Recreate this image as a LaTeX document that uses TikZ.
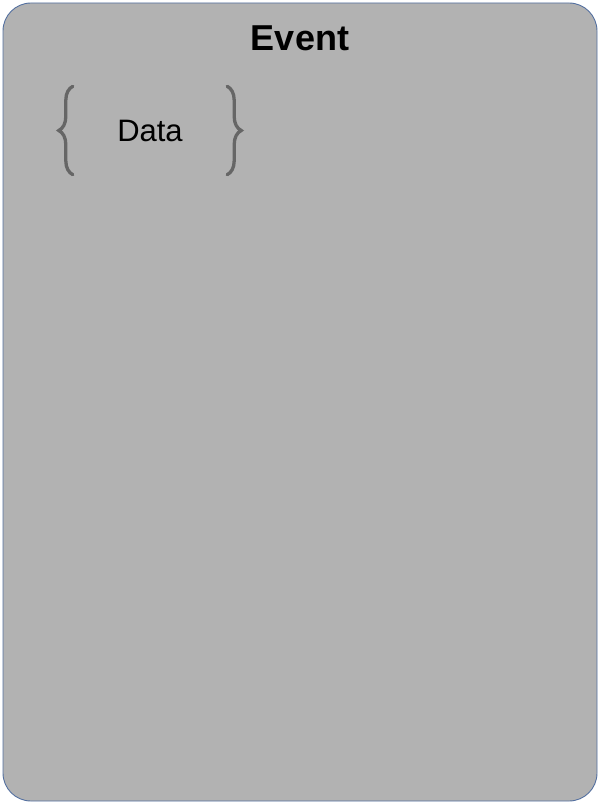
\documentclass[tikz,border=0pt]{standalone}
\usepackage{fontspec}
\setmainfont{Liberation Sans}
\usepackage{xcolor}
\usetikzlibrary{positioning,decorations.pathreplacing}

\definecolor{eventfill}{RGB}{178,178,178}
\definecolor{eventline}{RGB}{84,112,160}
\definecolor{bracegray}{RGB}{102,102,102}

\tikzset{
  eventbox/.style={draw=eventline,fill=eventfill,line width=0.9pt,rounded corners=28pt,
    minimum width=594pt,minimum height=798pt,inner sep=0pt},
  titletext/.style={font=\fontsize{36}{40}\selectfont\bfseries},
  datatext/.style={font=\fontsize{31}{35}\selectfont,minimum width=154pt,minimum height=88pt,inner sep=0pt},
  databrace/.style={draw=bracegray,line width=3.3pt,line cap=round,decorate,
    decoration={brace,amplitude=14pt}}
}

\begin{document}
\begin{tikzpicture}[x=1pt,y=-1pt]
\useasboundingbox (0,0) rectangle (601,805);
\node[eventbox] (event) at (300,402) {};
\node[titletext] (title) at (300,38) {Event};
\node[datatext] (data) at (150,130.5) {Data};

\draw[databrace] (data.south west) -- (data.north west);
\draw[databrace] (data.north east) -- (data.south east);
\end{tikzpicture}
\end{document}
